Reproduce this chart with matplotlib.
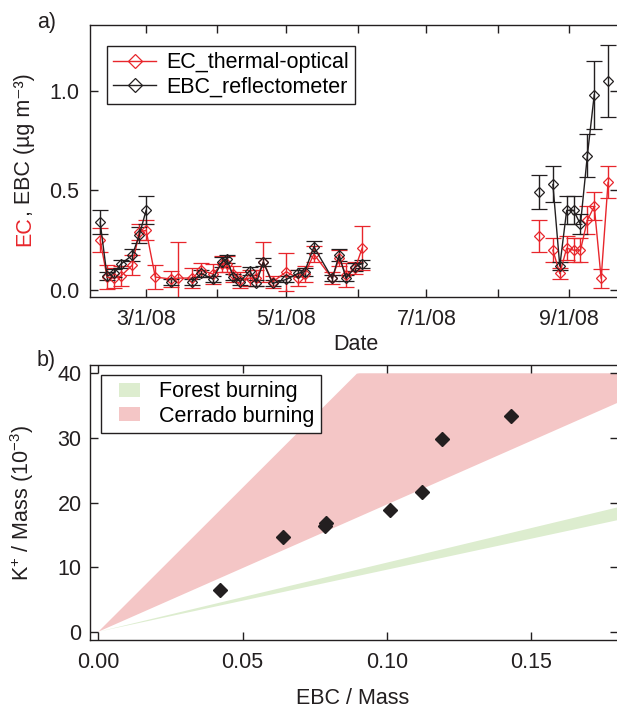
import datetime as dt

import numpy as np
import matplotlib
matplotlib.use("Agg")
import matplotlib.pyplot as plt
import matplotlib.dates as mdates
import matplotlib.patches as mpatches
from matplotlib.lines import Line2D
from matplotlib.ticker import FuncFormatter, FixedLocator
from matplotlib.legend_handler import HandlerPatch

plt.rcParams["font.family"] = ["Liberation Sans", "DejaVu Sans"]
plt.rcParams["mathtext.fontset"] = "custom"
plt.rcParams["mathtext.rm"] = "Liberation Sans"
plt.rcParams["mathtext.it"] = "Liberation Sans"
plt.rcParams["mathtext.default"] = "regular"

# ---------------------------------------------------------------- data
# Sampling days in 2008 (NaN rows mark breaks in the record)
sample_dates = [
    "2008-02-10", "2008-02-13", "2008-02-16", "2008-02-19", "2008-02-24",
    "2008-02-27", "2008-03-01", "2008-03-05", "2008-03-12", "2008-03-15",
    "2008-03-21", "2008-03-25", "2008-03-30", "2008-04-03", "2008-04-05",
    "2008-04-08", "2008-04-11", "2008-04-15", "2008-04-18", "2008-04-21",
    "2008-04-25", "2008-05-01", "2008-05-06", "2008-05-09", "2008-05-13",
    "2008-05-21", "2008-05-24", "2008-05-27", "2008-05-31", "2008-06-03",
    "2008-07-15", "2008-08-19", "2008-08-22", "2008-08-25", "2008-08-28",
    "2008-08-31", "2008-09-03", "2008-09-06", "2008-09-09", "2008-09-12",
    "2008-09-15", "2008-09-18",
]
nan = np.nan
# EC from thermal-optical analysis (ug m-3) and its uncertainty
ec = [0.25, 0.065, 0.06, 0.07, 0.125, 0.29, 0.30, 0.065, 0.055, 0.06,
      0.06, 0.10, 0.08, 0.13, 0.13, 0.08, 0.05, 0.06, 0.06, 0.14,
      0.04, 0.092, 0.06, 0.08, 0.18, 0.058, 0.16, 0.075, 0.11, 0.21,
      nan, 0.27, nan, 0.20, 0.083, 0.21, 0.20, 0.20, 0.35, 0.42,
      0.058, 0.54]
ec_err = [0.06, 0.06, 0.05, 0.05, 0.05, 0.04, 0.05, 0.06, 0.04, 0.18,
          0.05, 0.035, 0.05, 0.04, 0.04, 0.04, 0.04, 0.04, 0.04, 0.10,
          0.03, 0.095, 0.04, 0.04, 0.04, 0.03, 0.04, 0.06, 0.03, 0.11,
          nan, 0.08, nan, 0.06, 0.03, 0.06, 0.06, 0.06, 0.07, 0.07,
          0.05, 0.08]
# EBC from the reflectometer (ug m-3) and its uncertainty
ebc = [0.34, 0.07, 0.085, 0.13, 0.175, 0.275, 0.40, nan, 0.042, nan,
       0.042, 0.083, 0.055, 0.14, 0.158, 0.067, 0.042, 0.097, 0.037, 0.14,
       0.033, 0.053, 0.083, 0.092, 0.217, 0.058, 0.175, 0.058, 0.117, 0.133,
       nan, 0.49, nan, 0.53, 0.12, 0.40, 0.40, 0.33, 0.675, 0.98,
       nan, 1.05]
ebc_err = [0.06, 0.02, 0.02, 0.02, 0.03, 0.04, 0.07, nan, 0.015, nan,
           0.015, 0.02, 0.015, 0.025, 0.02, 0.015, 0.015, 0.02, 0.015, 0.02,
           0.015, 0.015, 0.015, 0.02, 0.03, 0.015, 0.03, 0.015, 0.02, 0.02,
           nan, 0.085, nan, 0.09, 0.02, 0.07, 0.07, 0.05, 0.11, 0.17,
           nan, 0.18]

# Panel b: potassium vs EBC, both normalised by particle mass
ebc_mass = [0.042, 0.064, 0.0785, 0.079, 0.101, 0.112, 0.119, 0.143]
k_mass = [6.4, 14.6, 16.4, 16.9, 18.8, 21.7, 29.8, 33.4]

# Source ratio ranges (K+/Mass per unit EBC/Mass, in 1e-3)
forest_slope = (96.0, 107.0)
cerrado_slope = (197.0, 446.0)
band_cap = 40.0

# ---------------------------------------------------------------- style
RED = "#E8262C"
BLACK = "#231F20"
PINK = "#F4C6C6"
GREEN = "#DDEDCF"
FS = 15.5

W, H = 617, 709
fig = plt.figure(figsize=(W / 100, H / 100), dpi=100)


def rect(left, top, right, bottom):
    return [left / W, 1 - bottom / H, (right - left) / W, (bottom - top) / H]


ax1 = fig.add_axes(rect(90, 25, 618, 297))
ax2 = fig.add_axes(rect(90, 365, 618, 640))

for ax in (ax1, ax2):
    for side in ("left", "bottom", "top"):
        ax.spines[side].set_linewidth(1.0)
        ax.spines[side].set_color(BLACK)
    ax.spines["right"].set_visible(False)
    ax.tick_params(which="both", direction="in", length=6, width=1.0,
                   top=True, right=True, labelsize=FS, colors=BLACK)

# ---------------------------------------------------------------- panel a
dates = [dt.datetime.strptime(d, "%Y-%m-%d") for d in sample_dates]

series_style = dict(fmt="-D", lw=1.0, elinewidth=1.0, capsize=5.5,
                    capthick=1.0, ms=4.6, mfc="none", mew=0.9)
ax1.errorbar(dates, ec, yerr=ec_err, color=RED, mec=RED, **series_style)
ax1.errorbar(dates, ebc, yerr=ebc_err, color=BLACK, mec=BLACK,
             **series_style)

ax1.set_xlim(dt.datetime(2008, 2, 5, 14), dt.datetime(2008, 9, 22, 8))
ax1.set_ylim(-0.035, 1.33)
ax1.yaxis.set_major_locator(FixedLocator([0.0, 0.5, 1.0]))
ax1.yaxis.set_major_formatter(FuncFormatter(lambda v, p: f"{v:.1f}"))
ax1.xaxis.set_major_locator(mdates.MonthLocator())


def month_label(v, pos):
    d = mdates.num2date(v)
    return f"{d.month}/{d.day}/{d:%y}" if d.month % 2 == 1 else ""


ax1.xaxis.set_major_formatter(FuncFormatter(month_label))
ax1.tick_params(axis="x", pad=8.5)
ax1.tick_params(axis="y", pad=8)

legend_lines = [
    Line2D([], [], color=RED, lw=1.0, marker="D", ms=7, mfc="none",
           mec=RED, mew=0.9),
    Line2D([], [], color=BLACK, lw=1.0, marker="D", ms=7, mfc="none",
           mec=BLACK, mew=0.9),
]
leg1 = ax1.legend(legend_lines, ["EC_thermal-optical", "EBC_reflectometer"],
                  loc="upper left", bbox_to_anchor=(0.032, 0.923),
                  borderaxespad=0, fontsize=FS, handlelength=2.0,
                  handletextpad=0.45, borderpad=0.3, labelspacing=0.15,
                  fancybox=False, framealpha=1, edgecolor=BLACK)
leg1.get_frame().set_linewidth(1.0)

fig.text(356 / W, 1 - 345 / H, "Date", fontsize=FS, color=BLACK,
         ha="center", va="center")

# two-colour y label: red "EC", then the black remainder right after it
x_base = 30 / W
y_start = 1 - 246 / H
label_kw = dict(fontsize=FS, rotation=90, rotation_mode="anchor",
                ha="left", va="baseline")
t_red = fig.text(x_base, y_start, "EC", color=RED, **label_kw)
fig.canvas.draw()
red_box = t_red.get_window_extent()
y_next = fig.transFigure.inverted().transform((0, red_box.y1))[1]
fig.text(x_base, y_next, ", EBC (µg m⁻³)", color=BLACK, **label_kw)

# ---------------------------------------------------------------- panel b
xb = np.linspace(0, 0.18, 200)
ax2.fill_between(xb, np.minimum(forest_slope[0] * xb, band_cap),
                 np.minimum(forest_slope[1] * xb, band_cap),
                 facecolor=GREEN, edgecolor="none")
ax2.fill_between(xb, np.minimum(cerrado_slope[0] * xb, band_cap),
                 np.minimum(cerrado_slope[1] * xb, band_cap),
                 facecolor=PINK, edgecolor="none")
ax2.plot(ebc_mass, k_mass, "D", color=BLACK, ms=7.5, zorder=3)

ax2.set_xlim(-0.00287, 0.18)
ax2.set_ylim(-1.28, 41.28)
ax2.xaxis.set_major_locator(FixedLocator([0.0, 0.05, 0.10, 0.15]))
ax2.xaxis.set_major_formatter(FuncFormatter(lambda v, p: f"{v:.2f}"))
ax2.yaxis.set_major_locator(FixedLocator([0, 10, 20, 30, 40]))
ax2.tick_params(axis="x", pad=9)
ax2.tick_params(axis="y", pad=6)


def swatch(legend, orig_handle, xdescent, ydescent, width, height, fontsize):
    return mpatches.Rectangle((-xdescent + 0.36 * width, -ydescent),
                              0.64 * width, height)


band_handles = [mpatches.Patch(facecolor=GREEN, edgecolor="none"),
                mpatches.Patch(facecolor=PINK, edgecolor="none")]
leg2 = ax2.legend(band_handles, ["Forest burning", "Cerrado burning"],
                  loc="upper left", bbox_to_anchor=(0.021, 0.964),
                  borderaxespad=0, fontsize=FS, handlelength=1.5,
                  handleheight=0.6, handletextpad=0.9, borderpad=0.3,
                  labelspacing=0.15, fancybox=False, framealpha=1,
                  edgecolor=BLACK,
                  handler_map={mpatches.Patch: HandlerPatch(patch_func=swatch)})
leg2.get_frame().set_linewidth(1.0)

fig.text(353 / W, 1 - 699 / H, "EBC / Mass", fontsize=FS, color=BLACK,
         ha="center", va="center")
fig.text(22 / W, 1 - 503 / H, r"K$^{+}$ / Mass (10$^{-3}$)", fontsize=FS,
         color=BLACK, rotation=90, ha="center", va="center")

fig.text(37 / W, 1 - 28 / H, "a)", fontsize=FS, color=BLACK, va="baseline")
fig.text(37 / W, 1 - 366 / H, "b)", fontsize=FS, color=BLACK, va="baseline")

fig.savefig("out.png", dpi=100)
